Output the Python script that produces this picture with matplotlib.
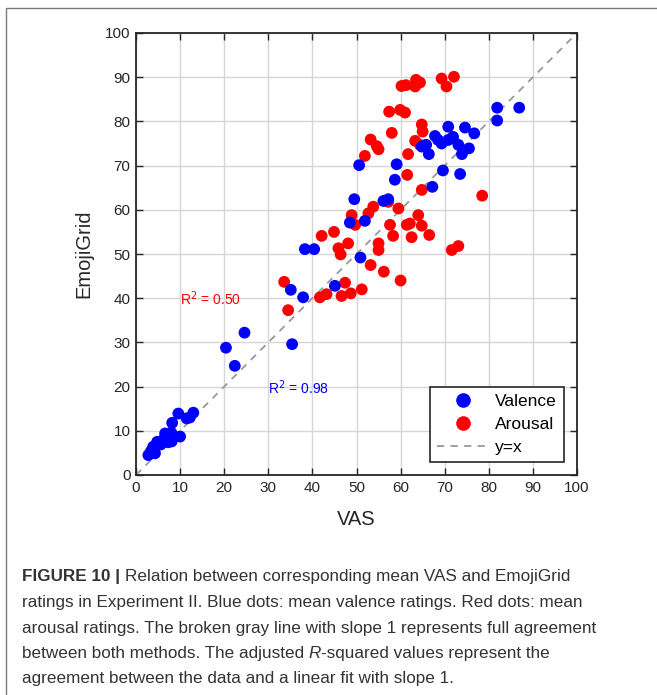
import matplotlib
matplotlib.use("Agg")
import matplotlib.pyplot as plt
from matplotlib.patches import Rectangle
from matplotlib.lines import Line2D

plt.rcParams["font.family"] = ["Liberation Sans", "DejaVu Sans"]

# Mean valence ratings (VAS vs EmojiGrid)
valence_vas = [2.8, 3.4, 4.3, 3.9, 4.8, 5.6, 6.2, 6.6, 7.3, 8.1, 8.0, 8.2, 10.0, 9.6, 11.5, 12.2, 13.0,
               20.4, 22.4, 24.6, 35.4, 35.1, 37.9, 45.1, 38.3, 40.4, 50.9, 48.5, 51.9, 49.5, 56.1, 57.2,
               58.7, 50.6, 59.1, 67.2, 69.6, 73.5, 64.8, 65.8, 66.4, 67.8, 68.5, 69.3, 70.8, 70.8, 71.9,
               73.1, 73.9, 75.5, 74.6, 76.7, 81.9, 81.9, 86.9]
valence_emoji = [4.5, 5.4, 4.9, 6.4, 7.5, 6.9, 8.0, 9.4, 7.4, 7.6, 9.6, 11.8, 8.7, 13.9, 12.8, 13.0, 14.1,
                 28.8, 24.7, 32.2, 29.6, 41.9, 40.2, 42.8, 51.1, 51.1, 49.2, 57.1, 57.5, 62.4, 62.0, 62.4,
                 66.8, 70.1, 70.3, 65.2, 68.9, 68.1, 74.3, 74.7, 72.6, 76.7, 75.8, 75.0, 78.8, 75.8, 76.5,
                 74.7, 72.6, 73.9, 78.6, 77.3, 83.1, 80.2, 83.1]

# Mean arousal ratings (VAS vs EmojiGrid)
arousal_vas = [33.6, 34.5, 41.7, 43.2, 46.6, 48.7, 51.2, 47.4, 53.2, 56.2, 60.0, 46.4, 45.9, 48.1, 44.9,
               42.1, 55.0, 55.0, 58.3, 62.5, 66.5, 57.6, 61.4, 62.1, 64.8, 64.0, 48.9, 49.7, 52.7, 53.8,
               57.2, 59.5, 64.8, 78.5, 61.5, 61.7, 51.9, 53.2, 54.6, 55.0, 58.0, 63.3, 64.4, 64.8, 65.0,
               57.4, 59.9, 61.0, 60.2, 61.2, 63.5, 64.4, 63.3, 69.3, 70.4, 72.1, 71.6, 73.1]
arousal_emoji = [43.7, 37.3, 40.2, 40.9, 40.5, 41.1, 42.0, 43.5, 47.5, 46.0, 44.0, 49.9, 51.3, 52.4, 55.0,
                 54.1, 52.4, 50.9, 54.1, 53.8, 54.3, 56.6, 56.6, 56.9, 56.4, 58.8, 58.8, 56.6, 59.2, 60.7,
                 61.8, 60.3, 64.5, 63.2, 67.9, 72.6, 72.2, 75.9, 74.4, 73.7, 77.4, 75.6, 74.7, 79.3, 77.7,
                 82.2, 82.6, 82.0, 88.0, 88.2, 89.4, 88.8, 87.9, 89.7, 87.9, 90.1, 50.9, 51.8]

r2_valence = 0.98
r2_arousal = 0.50
ticks = list(range(0, 101, 10))

W, H = 657, 695
fig = plt.figure(figsize=(W / 100, H / 100), dpi=100)

# Framed panel around the figure (open to the right and bottom edges)
frame = Rectangle((6 / W, -0.5), 1.5, 0.5 + 1 - 8 / H, transform=fig.transFigure,
                  fill=False, edgecolor="#7a7a7a", linewidth=1.0, clip_on=False)
fig.patches.append(frame)

ax = fig.add_axes([136 / W, 1 - 475 / H, (577 - 136) / W, (475 - 33) / H])
ax.set_xlim(0, 100)
ax.set_ylim(0, 100)
ax.set_xticks(ticks)
ax.set_yticks(ticks)
ax.grid(True, color="#d6d6d6", linewidth=1.0)
ax.set_axisbelow(True)
ax.tick_params(direction="in", length=5, width=1.0, top=True, right=True,
               labelsize=11, colors="#262626", pad=4)
for s in ax.spines.values():
    s.set_linewidth(1.3)
    s.set_color("#262626")

ax.plot([0, 100], [0, 100], linestyle=(0, (4, 3.5)), color="#999999", linewidth=1.3, zorder=1)
ax.scatter(arousal_vas, arousal_emoji, s=72, color="#ff0000", edgecolors="none", zorder=3)
ax.scatter(valence_vas, valence_emoji, s=72, color="#0000ff", edgecolors="none", zorder=3)

ax.text(10, 39.8, f"R$^2$ = {r2_arousal:.2f}", color="#ff0000", fontsize=10, va="center", ha="left")
ax.text(30, 19.7, f"R$^2$ = {r2_valence:.2f}", color="#0000ff", fontsize=10, va="center", ha="left")

ax.set_xlabel("VAS", fontsize=14.5, color="#262626", labelpad=11)
ax.set_ylabel("EmojiGrid", fontsize=14.5, color="#262626", labelpad=8)

handles = [
    Line2D([], [], marker="o", linestyle="none", color="#0000ff", markersize=9.5),
    Line2D([], [], marker="o", linestyle="none", color="#ff0000", markersize=9.5),
    Line2D([], [], linestyle=(0, (4, 3.5)), color="#999999", linewidth=1.3),
]
leg = ax.legend(handles, ["Valence", "Arousal", "y=x"], loc="lower right",
                bbox_to_anchor=(0.97, 0.03), borderaxespad=0, fontsize=12.5, frameon=True,
                fancybox=False, edgecolor="#262626", framealpha=1, borderpad=0.4,
                labelspacing=0.45, handlelength=3.0, handletextpad=0.35)
leg.get_frame().set_linewidth(1.2)

# Caption
caption = [
    [("FIGURE 10 | ", "bold", "normal"), ("Relation between corresponding mean VAS and EmojiGrid", "normal", "normal")],
    [("ratings in Experiment II. Blue dots: mean valence ratings. Red dots: mean", "normal", "normal")],
    [("arousal ratings. The broken gray line with slope 1 represents full agreement", "normal", "normal")],
    [("between both methods. The adjusted ", "normal", "normal"), ("R", "normal", "italic"),
     ("-squared values represent the", "normal", "normal")],
    [("agreement between the data and a linear fit with slope 1.", "normal", "normal")],
]
cap_x0 = 22
cap_y = [577, 602.5, 628, 653.5, 679]
cap_size = 12.35
renderer = fig.canvas.get_renderer()
for line, y in zip(caption, cap_y):
    x = cap_x0
    for txt, weight, style in line:
        t = fig.text(x / W, 1 - y / H, txt, fontsize=cap_size, fontweight=weight, fontstyle=style,
                     color="#333333", va="center", ha="left")
        bb = t.get_window_extent(renderer=renderer)
        x += bb.width

fig.savefig("out.png", dpi=100)
